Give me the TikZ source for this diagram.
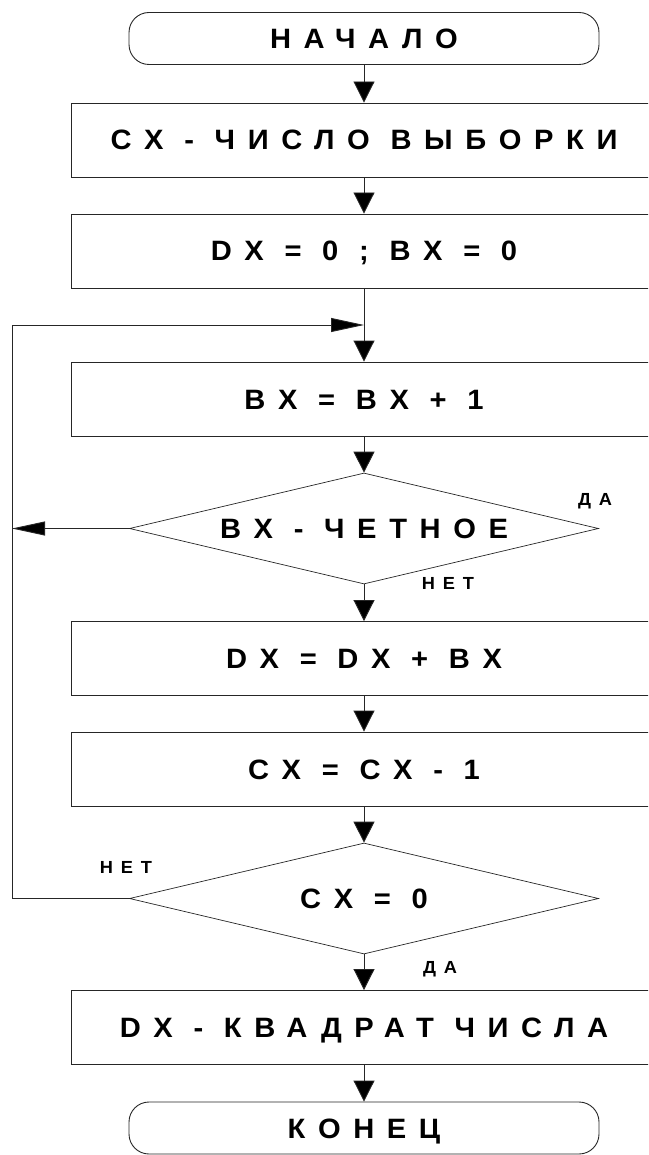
\documentclass[tikz,border=0pt]{standalone}
\usepackage{fontspec}
\newfontfamily\chartfont{Liberation Sans}[FakeStretch=1.04,LetterSpace=45]
\usetikzlibrary{shapes.geometric,arrows.meta}
\tikzset{>=latex}

\begin{document}
\begin{tikzpicture}[x=1pt,y=-1pt,
    font=\chartfont\bfseries\fontsize{28}{30}\selectfont,
    block/.style={draw=black!85,line width=0.9pt,text height=20pt,text depth=0pt,inner sep=0pt},
    process/.style={block,rectangle,minimum width=586pt,minimum height=74pt},
    term/.style={block,rectangle,rounded corners=20pt,minimum width=470pt,minimum height=52pt},
    decision/.style={block,diamond,aspect=4.2,minimum width=469pt,minimum height=111pt,line width=0.7pt},
    tag/.style={font=\chartfont\bfseries\fontsize{17.5}{19}\selectfont,text height=12.5pt,text depth=0pt,inner sep=0pt},
    vflow/.style={draw=black!85,line width=0.9pt,-{Triangle[length=21pt,width=21pt,fill=black]}},
    hflow/.style={draw=black!85,line width=0.9pt,-{Triangle[length=33pt,width=14pt,fill=black]}}]
    \clip (0,0) rectangle (648,1155);
    \node[term] (start) at (364,38.5) {НАЧАЛО};
    \node[process] (count) at (364,140) {CX - ЧИСЛО ВЫБОРКИ};
    \node[process] (init) at (364,251) {DX = 0 ; BX = 0};
    \node[process] (incr) at (364,399) {BX = BX + 1};
    \node[decision] (even) at (364,528.5) {BX - ЧЕТНОЕ};
    \node[process] (sum) at (364,658.5) {DX = DX + BX};
    \node[process] (dec) at (364,769) {CX = CX - 1};
    \node[decision] (zero) at (364,898.5) {CX = 0};
    \node[process] (result) at (364,1027.5) {DX - КВАДРАТ ЧИСЛА};
    \node[term] (stop) at (364,1128) {КОНЕЦ};
    \node[tag] (evenyes) at (595,499) {ДА};
    \node[tag] (evenno) at (448,583) {НЕТ};
    \node[tag] (zerono) at (126,867) {НЕТ};
    \node[tag] (zeroyes) at (440,967) {ДА};
    \coordinate (looptop) at (12,325);
    \coordinate (join) at (364,325);
    \draw[vflow] (start) -- (count);
    \draw[vflow] (count) -- (init);
    \draw[vflow] (init) -- (incr);
    \draw[vflow] (incr) -- (even);
    \draw[vflow] (even) -- (sum);
    \draw[vflow] (sum) -- (dec);
    \draw[vflow] (dec) -- (zero);
    \draw[vflow] (zero) -- (result);
    \draw[vflow] (result) -- (stop);
    \draw[hflow] (even.west) -- (even.west -| looptop);
    \draw[hflow] (zero.west) -| (looptop) -- (join);
  \end{tikzpicture}
\end{document}
